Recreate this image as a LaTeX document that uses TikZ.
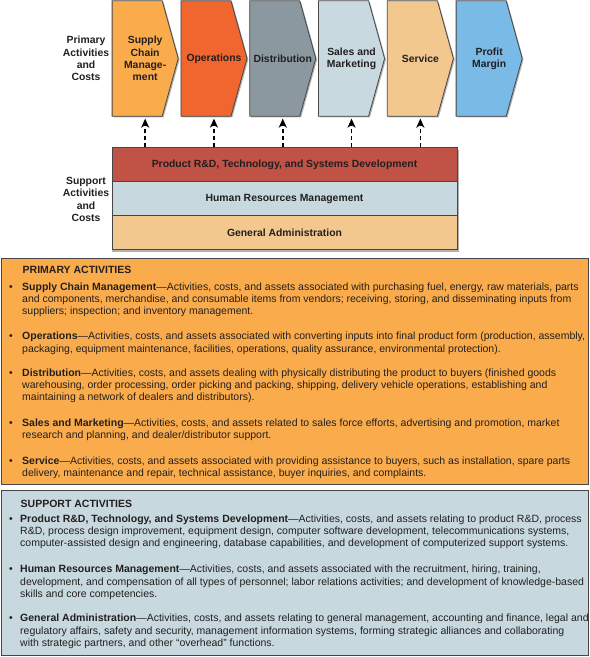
\documentclass[tikz,border=0pt]{standalone}
\usepackage{fontspec}
\setmainfont{Liberation Sans}
\usetikzlibrary{arrows.meta,calc}
\pgfdeclarelayer{background}
\pgfsetlayers{background,main}
\definecolor{cScm}{RGB}{250,172,76}
\definecolor{cOps}{RGB}{240,102,46}
\definecolor{cDis}{RGB}{139,152,160}
\definecolor{cSal}{RGB}{200,218,224}
\definecolor{cSer}{RGB}{242,200,142}
\definecolor{cPro}{RGB}{122,186,230}
\definecolor{cRd}{RGB}{192,82,70}
\definecolor{cHr}{RGB}{199,217,223}
\definecolor{cGa}{RGB}{242,200,142}
\definecolor{cOr}{RGB}{250,172,76}
\definecolor{cBl}{RGB}{199,217,223}
\definecolor{txt}{RGB}{35,31,32}
\definecolor{lineC}{RGB}{70,70,70}
\tikzset{
  boldlbl/.style={font=\fontsize{10.4bp}{12.2bp}\selectfont\bfseries, text=txt, align=center, inner sep=0pt},
  chev/.style={boldlbl, rectangle, minimum width=65.7bp, minimum height=115bp},
  chevline/.style={draw=lineC, line width=0.8bp},
  shadowc/.style={fill=black!30, transform canvas={xshift=1.3bp, yshift=-1.3bp}},
  supbox/.style={boldlbl, rectangle, draw=lineC, line width=0.9bp, minimum width=345bp, minimum height=34bp},
  panel/.style={rectangle, draw=lineC, line width=0.9bp, minimum width=587bp, inner sep=0pt},
  suparrow/.style={line width=1.7bp, dash pattern=on 4bp off 3bp, -{Stealth[length=9bp,width=8bp,inset=2.5bp]}, shorten >=2.4bp},
  bodytxt/.style={anchor=base west, align=left, inner sep=0pt, font=\fontsize{10.5bp}{12.2bp}\selectfont, text=txt},
  headtxt/.style={anchor=base west, inner sep=0pt, font=\fontsize{10.5bp}{12.2bp}\selectfont\bfseries, text=txt},
  bul/.style={anchor=base, inner sep=0pt, font=\fontsize{10.5bp}{12.2bp}\selectfont, text=txt}
}
\begin{document}
\begin{tikzpicture}[x=1bp,y=-1bp]
\useasboundingbox (0,0) rectangle (590,657);
% ---------- chevrons ----------
\node[chev] (scm) at (145.15,58.5) {Supply\\Chain\\Manage-\\ment};
\node[chev] (ops) at (213.95,58.5) {Operations};
\node[chev] (dis) at (282.75,58.5) {Distribution};
\node[chev] (sal) at (351.55,58.5) {Sales and\\Marketing};
\node[chev] (ser) at (420.35,58.5) {Service};
\node[chev] (pro) at (489.15,58.5) {Profit\\Margin};
\begin{pgfonlayer}{background}
\foreach \n/\c in {scm/cScm,ops/cOps,dis/cDis,sal/cSal,ser/cSer,pro/cPro}{
  \fill[shadowc] (\n.north west) -- ([xshift=-16bp]\n.north east) -- (\n.east) -- ([xshift=-16bp]\n.south east) -- (\n.south west) -- cycle;
  \filldraw[chevline, fill=\c] (\n.north west) -- ([xshift=-16bp]\n.north east) -- (\n.east) -- ([xshift=-16bp]\n.south east) -- (\n.south west) -- cycle;
}
\end{pgfonlayer}
\node[boldlbl] (primlbl) at (86,58.5) {Primary\\Activities\\and\\Costs};
% ---------- support box ----------
\fill[black!30] (111.5,149.5) rectangle (459,252);
\node[supbox, fill=cRd] (rd) at (284.5,164.85) {Product R\&D, Technology, and Systems Development};
\node[supbox, fill=cHr] (hr) at (284.5,198.85) {Human Resources Management};
\node[supbox, fill=cGa] (ga) at (284.5,232.85) {General Administration};
\node[boldlbl] (suplbl) at (86,199.5) {Support\\Activities\\and\\Costs};
\foreach \n in {scm,ops,dis,sal,ser}{
  \draw[suparrow] (\n |- rd.north) -- (\n.south);
}
% ---------- primary activities panel ----------
\node[panel, fill=cOr, minimum height=226bp] (pribox) at (294.5,371) {};
\node[headtxt] (prihead) at (22.5,273.5) {PRIMARY ACTIVITIES};
\node[bul] (b1) at (11,290.5) {•};
\node[bodytxt] (p1) at (22,314.9) {\textbf{Supply Chain Management}—Activities, costs, and assets associated with purchasing fuel, energy, raw materials, parts\\and components, merchandise, and consumable items from vendors; receiving, storing, and disseminating inputs from\\suppliers; inspection; and inventory management.};
\node[bul] (b2) at (11,339.8) {•};
\node[bodytxt] (p2) at (22,352.0) {\textbf{Operations}—Activities, costs, and assets associated with converting inputs into final product form (production, assembly,\\packaging, equipment maintenance, facilities, operations, quality assurance, environmental protection).};
\node[bul] (b3) at (11,376.5) {•};
\node[bodytxt] (p3) at (22,400.9) {\textbf{Distribution}—Activities, costs, and assets dealing with physically distributing the product to buyers (finished goods\\warehousing, order processing, order picking and packing, shipping, delivery vehicle operations, establishing and\\maintaining a network of dealers and distributors).};
\node[bul] (b4) at (11,426.2) {•};
\node[bodytxt] (p4) at (22,438.4) {\textbf{Sales and Marketing}—Activities, costs, and assets related to sales force efforts, advertising and promotion, market\\research and planning, and dealer/distributor support.};
\node[bul] (b5) at (11,464.5) {•};
\node[bodytxt] (p5) at (22,476.7) {\textbf{Service}—Activities, costs, and assets associated with providing assistance to buyers, such as installation, spare parts\\delivery, maintenance and repair, technical assistance, buyer inquiries, and complaints.};
% ---------- support activities panel ----------
\node[panel, fill=cBl, minimum height=165bp] (supbox) at (294.5,572.5) {};
\node[headtxt] (suphead) at (20.5,507.5) {SUPPORT ACTIVITIES};
\node[bul] (b6) at (11,522.5) {•};
\node[bodytxt] (p6) at (20,546.9) {\textbf{Product R\&D, Technology, and Systems Development}—Activities, costs, and assets relating to product R\&D, process\\R\&D, process design improvement, equipment design, computer software development, telecommunications systems,\\computer-assisted design and engineering, database capabilities, and development of computerized support systems.};
\node[bul] (b7) at (11,572.8) {•};
\node[bodytxt] (p7) at (20,597.2) {\textbf{Human Resources Management}—Activities, costs, and assets associated with the recruitment, hiring, training,\\development, and compensation of all types of personnel; labor relations activities; and development of knowledge-based\\skills and core competencies.};
\node[bul] (b8) at (11,621.8) {•};
\node[bodytxt] (p8) at (20,646.2) {\textbf{General Administration}—Activities, costs, and assets relating to general management, accounting and finance, legal and\\regulatory affairs, safety and security, management information systems, forming strategic alliances and collaborating\\with strategic partners, and other “overhead” functions.};
\end{tikzpicture}
\end{document}
